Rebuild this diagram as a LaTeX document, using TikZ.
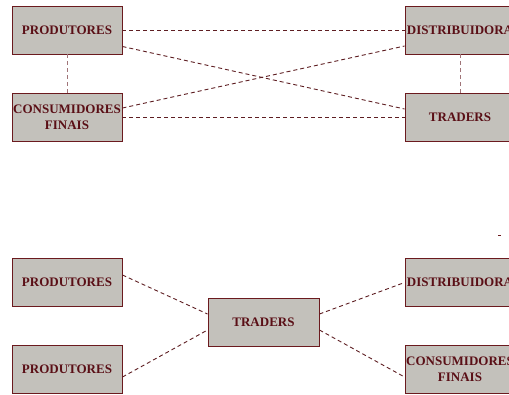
\documentclass[tikz,border=0pt]{standalone}
\usepackage{fontspec}
\setmainfont{Liberation Serif}
\usetikzlibrary{calc}
\definecolor{boxfill}{HTML}{C3C1BB}
\definecolor{boxline}{HTML}{6B1A1E}
\definecolor{boxtext}{HTML}{5A0F16}
\definecolor{linkdark}{HTML}{5E1E22}
\definecolor{linklight}{HTML}{A07478}
\tikzset{
  agent/.style={draw=boxline, fill=boxfill, line width=0.9bp, rectangle,
    minimum width=110bp, minimum height=48bp, inner sep=0pt, align=center,
    text=boxtext, font=\fontsize{13bp}{16bp}\selectfont\bfseries},
  link/.style={draw=linkdark, line width=0.9bp, dash pattern=on 4bp off 3bp},
  linklt/.style={draw=linklight, line width=1bp, dash pattern=on 4bp off 3bp}
}
\begin{document}
\begin{tikzpicture}[x=1bp, y=-1bp]
  \useasboundingbox (0,0) rectangle (509,394);
  \begin{scope}
  \clip (0,0) rectangle (509,394);

  % upper network: every agent linked to every other
  \node[agent] (prod)  at (67,30)  {PRODUTORES};
  \node[agent] (cons)  at (67,117) {CONSUMIDORES\\FINAIS};
  \node[agent] (dist)  at (460,30) {DISTRIBUIDORA};
  \node[agent] (trad)  at (460,117) {TRADERS};

  \draw[linklt] (prod.south) -- (cons.north);
  \draw[linklt] (dist.south) -- (trad.north);
  \draw[link] (prod.east) -- (dist.west);
  \draw[link] (cons.east) -- (trad.west);
  \draw[link] ($(prod.east)+(0,16.5)$) -- ($(trad.west)+(0,-8)$);
  \draw[link] ($(cons.east)+(0,-9)$) -- ($(dist.west)+(0,16)$);

  % lower network: traders in the middle
  \node[agent] (prodA) at (67,282.5)  {PRODUTORES};
  \node[agent] (prodB) at (67,369.5)  {PRODUTORES};
  \node[agent, minimum width=111bp] (hub) at (263.5,322) {TRADERS};
  \node[agent] (distB) at (460,282.5) {DISTRIBUIDORA};
  \node[agent] (consB) at (460,369.5) {CONSUMIDORES\\FINAIS};

  \draw[link] ($(prodA.east)+(0,-7.5)$) -- ($(hub.west)+(0,-8)$);
  \draw[link] ($(prodB.east)+(0,7.5)$) -- ($(hub.west)+(0,8)$);
  \draw[link] ($(hub.east)+(0,-8)$) -- (distB.west);
  \draw[link] ($(hub.east)+(0,8)$) -- ($(consB.west)+(0,7.5)$);

  % stray mark
  \fill[boxline] (498,234.5) rectangle (500.5,235.5);
  \end{scope}
\end{tikzpicture}
\end{document}
